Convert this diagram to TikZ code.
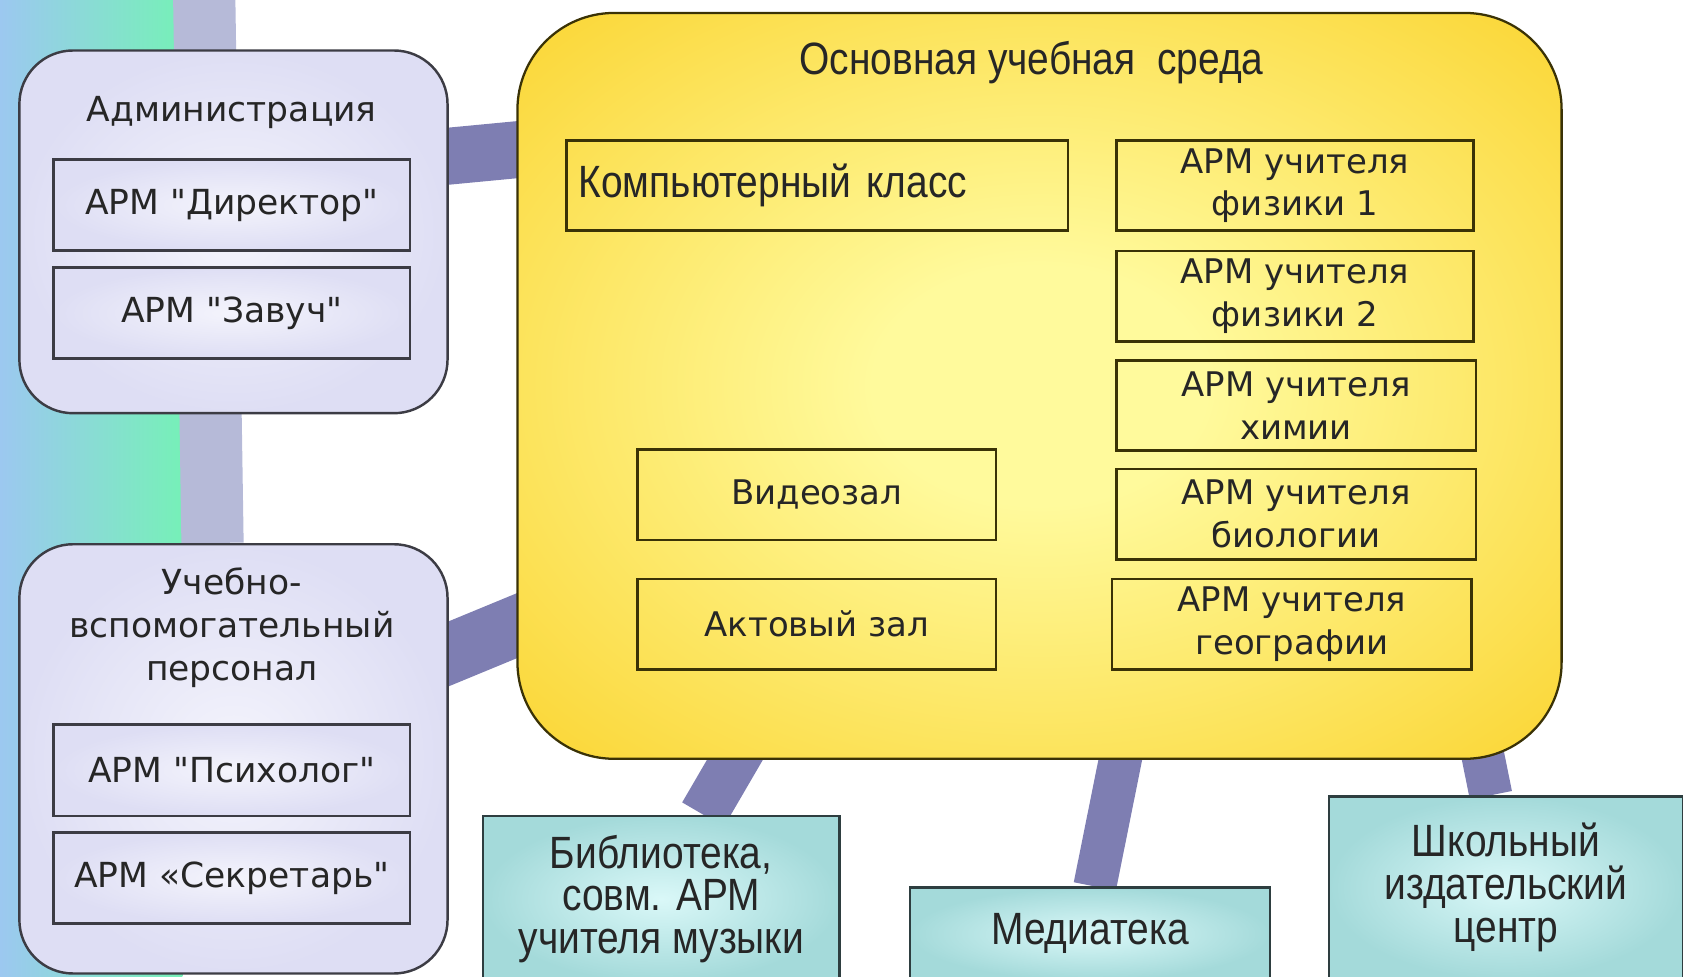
\documentclass[tikz,border=0pt]{standalone}
\usepackage{fontspec}
\setmainfont{DejaVu Sans}[Ligatures=TeXOff]
\newfontfamily\narrowfont[FakeStretch=0.86]{Liberation Sans}
\usetikzlibrary{backgrounds}
\definecolor{lavfill}{HTML}{DEDEF4}
\definecolor{lavlight}{HTML}{F4F4FC}
\definecolor{boxline}{HTML}{3C3C44}
\definecolor{goldout}{HTML}{FAD22A}
\definecolor{goldin}{HTML}{FFFA9C}
\definecolor{goldline}{HTML}{3A3206}
\definecolor{tealout}{HTML}{A4DADA}
\definecolor{tealin}{HTML}{DAF8F8}
\definecolor{tealline}{HTML}{2E3E40}
\definecolor{linkcol}{HTML}{7E7EB2}
\definecolor{linklight}{HTML}{B6BAD8}
\definecolor{stripblue}{HTML}{9CC8F0}
\definecolor{stripaqua}{HTML}{7EF0DE}
\definecolor{stripgreen}{HTML}{76F0B8}
\pgfdeclareradialshading{goldglow}{\pgfpoint{0bp}{0bp}}{color(0bp)=(goldin); color(8bp)=(goldin); color(38bp)=(goldout); color(50bp)=(goldout)}
\newcommand\widefont{\fontsize{18.3}{22.7}\selectfont}
\newcommand\roomfont{\fontsize{18}{22.7}\selectfont}
\newcommand\slimfont{\narrowfont\fontsize{24}{22.7}\selectfont}
\tikzstyle{group}=[draw=boxline, line width=1.3pt, rounded corners=1cm, inner color=lavlight, outer color=lavfill]
\tikzstyle{grouptitle}=[font=\widefont, align=center, text=black!85]
\tikzstyle{cell}=[draw=boxline, line width=1.3pt, minimum width=6.64cm, minimum height=1.7cm, inner color=lavlight, outer color=lavfill, font=\widefont, text=black!85]
\tikzstyle{room}=[draw=goldline, line width=1.4pt, minimum height=1.68cm, font=\roomfont, align=center, text=black!85]
\tikzstyle{branch}=[draw=tealline, line width=1.3pt, inner color=tealin, outer color=tealout, font=\slimfont, align=center, text=black!85]
\tikzstyle{link}=[draw=linkcol, line width=1.06cm]

\begin{document}
\begin{tikzpicture}[x=0.02cm, y=-0.02cm]
  \useasboundingbox (0,0) rectangle (1568,910);
  \clip (0,0) rectangle (1568,910);
  % left groups
  \node[group, minimum width=7.98cm, minimum height=6.76cm] (admin) at (217.5,216) {};
  \node[grouptitle] (admintitle) at (216,105) {Администрация};
  \node[cell] (director) at (216,191) {АРМ "Директор"};
  \node[cell] (zavuch) at (216,291.5) {АРМ "Завуч"};
  \node[group, minimum width=7.98cm, minimum height=8cm] (staff) at (217.5,707) {};
  \node[grouptitle] (stafftitle) at (216,585) {Учебно-\\вспомогательный\\персонал};
  \node[cell] (psych) at (216,717.5) {АРМ "Психолог"};
  \node[cell] (secretary) at (216,818) {АРМ «Секретарь"};
  % main environment
  \node[draw=goldline, line width=1.2pt, rounded corners=1.8cm, shading=goldglow,
        minimum width=19.46cm, minimum height=13.9cm] (main) at (968.5,359.5) {};
  \node[font=\slimfont, text=black!85] (maintitle) at (961,58) {Основная учебная \ среда};
  \node[room, minimum width=9.34cm, font=\slimfont, text width=8.9cm, align=left] (compclass) at (761.5,173) {Компьютерный класс};
  \node[room, minimum width=6.66cm] (phys1) at (1206.5,173) {АРМ учителя\\физики 1};
  \node[room, minimum width=6.66cm] (phys2) at (1206.5,276) {АРМ учителя\\физики 2};
  \node[room, minimum width=6.7cm] (chem) at (1207.5,378) {АРМ учителя\\химии};
  \node[room, minimum width=6.7cm] (bio) at (1207.5,479) {АРМ учителя\\биологии};
  \node[room, minimum width=6.7cm] (geo) at (1203.5,581.5) {АРМ учителя\\географии};
  \node[room, minimum width=6.68cm] (video) at (761,461) {Видеозал};
  \node[room, minimum width=6.68cm] (hall) at (761,581.5) {Актовый зал};
  % bottom branches
  \node[branch, minimum width=6.64cm, minimum height=3.1cm] (library) at (616,837.5) {Библиотека,\\совм. АРМ\\учителя музыки};
  \node[branch, minimum width=6.7cm, minimum height=1.72cm] (media) at (1015.5,870) {Медиатека};
  \node[branch, minimum width=6.6cm, minimum height=3.4cm] (press) at (1403,827) {Школьный\\издательский\\центр};
  \coordinate (top) at (190,-20);
  \begin{scope}[on background layer]
    \shade[left color=stripblue, middle color=stripaqua, right color=stripgreen] (0,0) rectangle (170,910);
    \draw[link, draw=linklight, line width=1.16cm] (top) -- (staff.north -| 198,0);
    \draw[link] ([xshift=-15pt]admin.east |- 0,148) -- ([xshift=15pt]main.west |- 0,137);
    \draw[link, line width=1.12cm] ([xshift=-15pt]staff.east |- 0,620) -- ([xshift=25pt]main.west |- 0,565);
    \draw[link, line width=0.9cm] (library.north -| 655,0) -- ([yshift=15pt]main.south -| 700,0);
    \draw[link, line width=0.8cm] (media.north -| 1020,0) -- ([yshift=15pt]main.south -| 1049,0);
    \draw[link, line width=0.8cm] (press.north -| 1389,0) -- ([yshift=15pt]main.south -| 1377,0);
  \end{scope}
\end{tikzpicture}
\end{document}
